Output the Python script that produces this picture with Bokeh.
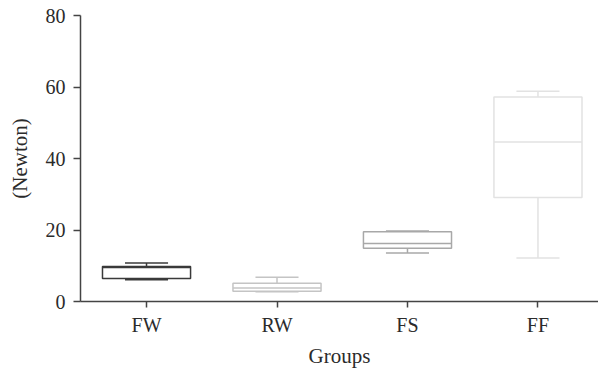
from bokeh.plotting import figure
from bokeh.models import Range1d, FixedTicker, ColumnDataSource
from bokeh.embed import file_html
from bokeh.resources import INLINE

groups = ["FW", "RW", "FS", "FF"]
whisker_low = [6.1, 2.7, 13.6, 12.2]
q1 = [6.4, 2.9, 14.9, 29.1]
median = [9.5, 3.8, 16.2, 44.6]
q3 = [9.8, 5.1, 19.5, 57.2]
whisker_high = [10.8, 6.8, 19.7, 58.8]
colors = ["#3a3a3a", "#c4c4c4", "#a8a8a8", "#e2e2e2"]
y_ticks = [0, 20, 40, 60, 80]

xs = list(range(1, len(groups) + 1))
box_w = 0.675
cap_w = 0.33

src = ColumnDataSource(dict(
    x=xs, left=[x - box_w / 2 for x in xs], right=[x + box_w / 2 for x in xs],
    cl=[x - cap_w / 2 for x in xs], cr=[x + cap_w / 2 for x in xs],
    lo=whisker_low, q1=q1, med=median, q3=q3, hi=whisker_high, color=colors,
))

FONT = "Liberation Serif"
TXT = "#2b2b2b"
AX = "#444444"

p = figure(width=598, height=370, output_backend="svg", toolbar_location=None,
           x_range=Range1d(0.494, 4.464), y_range=Range1d(0, 80),
           min_border_left=80, min_border_right=0, min_border_top=15, min_border_bottom=69)
p.outline_line_color = None
p.xgrid.visible = False
p.ygrid.visible = False

# whiskers
p.segment(x0="x", y0="q3", x1="x", y1="hi", source=src, line_color="color", line_width=1.5)
p.segment(x0="x", y0="lo", x1="x", y1="q1", source=src, line_color="color", line_width=1.5)
# caps
p.segment(x0="cl", y0="hi", x1="cr", y1="hi", source=src, line_color="color", line_width=1.5)
p.segment(x0="cl", y0="lo", x1="cr", y1="lo", source=src, line_color="color", line_width=1.5)
# boxes
p.quad(left="left", right="right", bottom="q1", top="q3", source=src,
       fill_color="white", line_color="color", line_width=1.5)
# medians
p.segment(x0="left", y0="med", x1="right", y1="med", source=src, line_color="color", line_width=1.5)

for ax in (p.xaxis[0], p.yaxis[0]):
    ax.axis_line_color = AX
    ax.axis_line_width = 1.5
    ax.major_tick_line_color = AX
    ax.major_tick_line_width = 1.5
    ax.minor_tick_line_color = None
    ax.major_tick_in = 0
    ax.major_label_text_font = FONT
    ax.major_label_text_font_size = "20px"
    ax.major_label_text_color = TXT
    ax.axis_label_text_font = FONT
    ax.axis_label_text_font_size = "21px"
    ax.axis_label_text_color = TXT
    ax.axis_label_text_font_style = "normal"

p.xaxis.ticker = FixedTicker(ticks=xs)
p.xaxis.major_label_overrides = {x: g for x, g in zip(xs, groups)}
p.xaxis.major_tick_out = 6
p.xaxis.major_label_standoff = 6
p.xaxis.axis_label = "Groups"
p.xaxis.axis_label_standoff = 5

p.yaxis.ticker = FixedTicker(ticks=y_ticks)
p.yaxis.major_tick_out = 7
p.yaxis.major_label_standoff = 8
p.yaxis.axis_label = "(Newton)"
p.yaxis.axis_label_standoff = 11

open("out.html", "w").write(file_html(p, INLINE))
